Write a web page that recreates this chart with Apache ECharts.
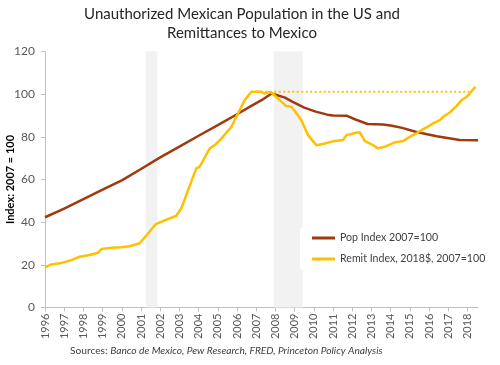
<!DOCTYPE html>
<html><head><meta charset="utf-8">
<script src="https://cdn.jsdelivr.net/npm/echarts@6/dist/echarts.min.js"></script>
<style>html,body{margin:0;padding:0;background:#fff}#c{width:500px;height:365px}</style>
</head><body><div id="c"></div>
<script>
const yearTicks = [1996,1997,1998,1999,2000,2001,2002,2003,2004,2005,2006,2007,2008,2009,2010,2011,2012,2013,2014,2015,2016,2017,2018];
const popYears = [1996.0,1997.0,1998.0,1999.0,2000.0,2001.0,2002.0,2003.0,2004.0,2005.0,2006.0,2006.7,2007.3,2007.8,2008.5,2008.9,2009.5,2010.1,2010.7,2011.0,2011.7,2012.2,2012.8,2013.6,2014.0,2014.6,2015.3,2015.9,2016.4,2016.8,2017.6,2018.55];
const popValues = [42.3,46.4,50.8,55.2,59.6,64.9,70.4,75.4,80.5,85.5,90.6,94.3,97.3,100.3,98.4,96.4,93.7,91.8,90.4,90.0,89.9,88.0,86.0,85.8,85.3,84.2,82.4,81.2,80.3,79.7,78.5,78.4];
const remitYears = [1996.0,1996.33,1996.77,1997.37,1997.8,1998.33,1998.76,1998.94,1999.46,1999.98,2000.41,2000.93,2001.3,2001.77,2002.23,2002.84,2003.1,2003.45,2003.88,2004.06,2004.3,2004.58,2004.84,2005.19,2005.71,2006.05,2006.4,2006.75,2007.27,2007.44,2007.7,2007.85,2008.22,2008.57,2008.83,2009.09,2009.35,2009.7,2010.13,2010.57,2011.09,2011.52,2011.7,2012.22,2012.39,2012.65,2013.08,2013.34,2013.78,2014.21,2014.65,2014.99,2015.34,2015.52,2015.86,2016.21,2016.56,2016.73,2017.08,2017.43,2017.69,2017.95,2018.12,2018.33,2018.43];
const remitValues = [18.8,20.2,20.7,22.2,23.8,24.6,25.7,27.4,28.0,28.2,28.7,30.1,34.0,39.1,40.8,43.0,46.5,55.0,65.2,66.0,70.0,74.6,76.1,79.3,84.7,91.0,97.2,101.1,101.1,100.3,101.1,100.3,97.2,94.4,94.1,91.2,87.8,80.8,76.1,76.9,78.1,78.5,80.8,81.9,82.2,78.1,76.1,74.6,75.6,77.4,78.0,80.0,81.6,82.7,84.4,86.3,87.8,89.4,91.4,94.4,97.2,98.7,100.3,102.7,103.4];
const refYears = [2007.0, 2018.1];
const refValues = [101.1, 101.1];
const recessions = [[2001.25, 2001.85], [2007.92, 2009.42]];
const seriesNames = ['Pop Index 2007=100', 'Remit Index, 2018$, 2007=100'];
const titleText = 'Unauthorized Mexican Population in the US and\nRemittances to Mexico';
const yAxisName = 'Index: 2007 = 100';

const zip = (a, b) => a.map((x, i) => [x, b[i]]);
const FONT = 'Lato, "Open Sans", sans-serif';
const chart = echarts.init(document.getElementById('c'));
chart.setOption({
  animation: false,
  textStyle: { fontFamily: FONT },
  grid: { left: 45, right: 22, top: 51.5, bottom: 57.5, containLabel: false, outerBoundsMode: 'none' },
  xAxis: {
    type: 'value', min: 1996, max: 2018.55,
    splitLine: { show: false },
    axisLine: { onZero: false, lineStyle: { color: '#bfbfbf', width: 1 } },
    axisTick: { show: true, length: 4, customValues: yearTicks, lineStyle: { color: '#bfbfbf' } },
    axisLabel: { rotate: 90, customValues: yearTicks, formatter: v => String(v), fontSize: 11, color: '#595959', margin: 6, fontFamily: FONT }
  },
  yAxis: {
    type: 'value', min: 0, max: 120, interval: 20,
    name: yAxisName, nameLocation: 'middle', nameGap: 29, nameMoveOverlap: false,
    nameTextStyle: { fontWeight: 'bold', fontSize: 11, color: '#000', fontFamily: FONT },
    splitLine: { show: false },
    axisLine: { show: true, lineStyle: { color: '#bfbfbf', width: 1 } },
    axisTick: { show: true, length: 4, lineStyle: { color: '#bfbfbf' } },
    axisLabel: { fontSize: 12, color: '#595959', margin: 10, fontFamily: FONT }
  },
  legend: {
    data: seriesNames, orient: 'vertical', left: 300, top: 228,
    icon: 'rect', itemWidth: 23, itemHeight: 3, itemGap: 7,
    backgroundColor: '#fff', padding: [3, 8, 3, 12],
    textStyle: { fontSize: 10.6, color: '#404040', lineHeight: 14, fontFamily: FONT }
  },
  series: [
    {
      name: seriesNames[0], type: 'line', showSymbol: false, z: 3,
      data: zip(popYears, popValues),
      lineStyle: { color: '#A0390E', width: 2.5 }, itemStyle: { color: '#A0390E' },
      markArea: {
        silent: true, itemStyle: { color: '#f2f2f2' },
        data: recessions.map(r => [{ xAxis: r[0] }, { xAxis: r[1] }])
      }
    },
    {
      name: seriesNames[1], type: 'line', showSymbol: false, z: 4,
      data: zip(remitYears, remitValues),
      lineStyle: { color: '#FFC000', width: 2.5 }, itemStyle: { color: '#FFC000' }
    },
    {
      name: 'ref', type: 'line', showSymbol: false, z: 2,
      data: zip(refYears, refValues),
      lineStyle: { color: '#FFC000', width: 2, type: [2, 2.5] }, itemStyle: { color: '#FFC000' }
    }
  ],
  graphic: [
    { type: 'text', x: 242, y: 5, style: { text: titleText, fill: '#262626', font: '15px ' + FONT, textAlign: 'center', lineHeight: 19 } },
    { type: 'text', x: 70, y: 346, style: {
      text: '{a|Sources: }{b|Banco de Mexico, Pew Research, FRED, Princeton Policy Analysis}',
      rich: { a: { fontSize: 10.2, fill: '#404040', fontFamily: FONT }, b: { fontSize: 10.2, fill: '#404040', fontStyle: 'italic', fontFamily: FONT } }
    } }
  ]
});
</script></body></html>
